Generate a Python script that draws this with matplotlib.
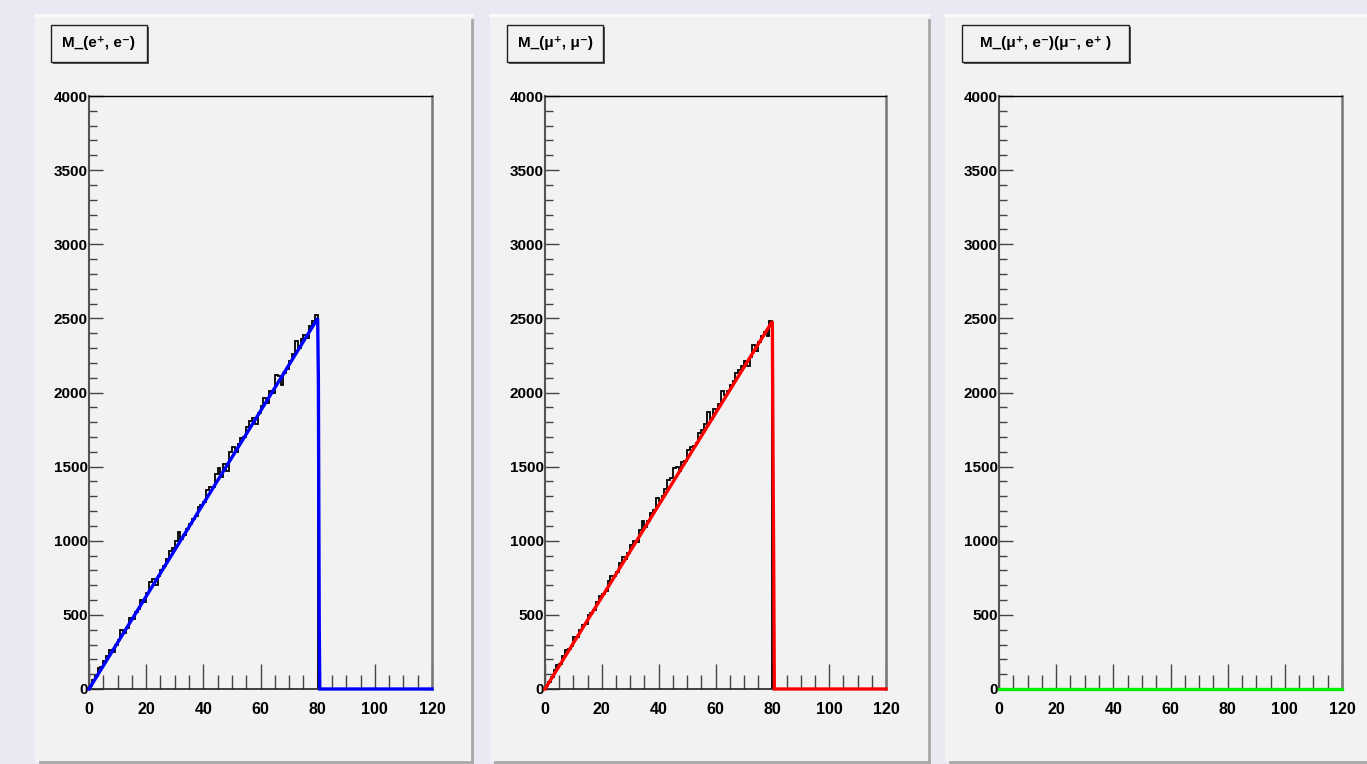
import numpy as np
import matplotlib
matplotlib.use("Agg")
import matplotlib.pyplot as plt
from matplotlib.patches import Rectangle
from matplotlib.lines import Line2D

plt.rcParams['font.family'] = ['Liberation Sans', 'DejaVu Sans']

W, H = 1367, 764

# histogram contents, 1 unit bins from 0 to 120 (empty above 80)
bin_edges = list(range(0, 121))
hist_ee = [20, 60, 90, 140, 150, 190, 220, 260, 250, 300,
           330, 400, 380, 410, 480, 470, 520, 540, 600, 590,
           650, 720, 740, 700, 760, 800, 830, 880, 930, 950,
           1000, 1060, 1010, 1040, 1080, 1110, 1150, 1170, 1230, 1240,
           1260, 1340, 1360, 1360, 1450, 1490, 1430, 1520, 1470, 1600,
           1630, 1600, 1650, 1690, 1700, 1770, 1810, 1830, 1790, 1860,
           1910, 1960, 1930, 2010, 2000, 2120, 2110, 2050, 2130, 2160,
           2210, 2260, 2350, 2300, 2360, 2390, 2370, 2450, 2480, 2520] + [0] * 40
hist_mumu = [20, 50, 80, 130, 160, 170, 220, 260, 270, 290,
             350, 350, 400, 430, 440, 500, 510, 530, 590, 630,
             640, 660, 730, 760, 760, 790, 850, 890, 880, 920,
             970, 1000, 990, 1070, 1130, 1090, 1130, 1190, 1210, 1290,
             1270, 1300, 1350, 1410, 1420, 1490, 1500, 1470, 1530, 1540,
             1610, 1630, 1640, 1660, 1730, 1750, 1790, 1870, 1820, 1890,
             1880, 1920, 2010, 1980, 2010, 2050, 2080, 2130, 2150, 2180,
             2210, 2180, 2240, 2320, 2280, 2340, 2380, 2410, 2380, 2480] + [0] * 40
hist_mue = [0] * 120

# fitted curves (sampled)
fit_ee_x = [0, 80, 80.25, 80.4, 80.55, 80.75, 120]
fit_ee_y = [0, 2500, 2080, 1240, 420, 0, 0]
fit_mumu_x = [0, 80, 80.25, 80.45, 80.7, 120]
fit_mumu_y = [0, 2480, 1550, 950, 0, 0]
fit_mue_x = [0, 120]
fit_mue_y = [0, 0]

titles = ['M_(e\u207a, e\u207b)', 'M_(\u03bc\u207a, \u03bc\u207b)',
          'M_(\u03bc\u207a, e\u207b)(\u03bc\u207b, e\u207a )']
hists = [hist_ee, hist_mumu, hist_mue]
fits = [(fit_ee_x, fit_ee_y), (fit_mumu_x, fit_mumu_y), (fit_mue_x, fit_mue_y)]
colors = ['#0000ff', '#ff0000', '#00ee00']

# pixel layout
pads = [(35, 472), (490, 929), (945, 1380)]
pad_top, pad_bot = 15, 762
axes_x = [(89, 432), (545, 886), (999, 1342)]
ax_top, ax_bot = 96, 689
title_boxes = [(51, 147), (507, 603), (962, 1129)]
tb_top, tb_bot = 25, 62


def fx(x):
    return x / W


def fy(y):
    return 1 - y / H


fig = plt.figure(figsize=(W / 100, H / 100), dpi=100)
fig.patch.set_facecolor('#e9e9f3')

for i in range(3):
    x0, x1 = pads[i]
    fig.patches.append(Rectangle((fx(x0), fy(pad_bot)), fx(x1 - x0), (pad_bot - pad_top) / H,
                                 transform=fig.transFigure, facecolor='#f2f2f2',
                                 edgecolor='none', zorder=-2))
    # bevel
    fig.add_artist(Line2D([fx(x1), fx(x1)], [fy(pad_bot), fy(pad_top + 5)],
                          color='#a8a8a8', lw=2, transform=fig.transFigure, zorder=-1))
    fig.add_artist(Line2D([fx(x0 + 5), fx(x1)], [fy(pad_bot), fy(pad_bot)],
                          color='#a8a8a8', lw=2, transform=fig.transFigure, zorder=-1))
    fig.add_artist(Line2D([fx(x0), fx(x1)], [fy(pad_top), fy(pad_top)],
                          color='#fafafa', lw=2, transform=fig.transFigure, zorder=-1))

    # title box with shadow
    b0, b1 = title_boxes[i]
    fig.patches.append(Rectangle((fx(b0 + 2), fy(tb_bot + 2)), fx(b1 - b0), (tb_bot - tb_top) / H,
                                 transform=fig.transFigure, facecolor='#555555',
                                 edgecolor='none', zorder=1))
    fig.patches.append(Rectangle((fx(b0), fy(tb_bot)), fx(b1 - b0), (tb_bot - tb_top) / H,
                                 transform=fig.transFigure, facecolor='#f2f2f2',
                                 edgecolor='#222222', lw=1, zorder=2))
    fig.text(fx((b0 + b1) / 2), fy((tb_top + tb_bot) / 2), titles[i], ha='center', va='center',
             fontsize=11, fontweight='bold', zorder=3)

    a0, a1 = axes_x[i]
    ax = fig.add_axes([fx(a0), fy(ax_bot), fx(a1 - a0), (ax_bot - ax_top) / H])
    ax.set_zorder(5)
    ax.set_facecolor('#f2f2f2')
    ax.stairs(hists[i], bin_edges, color='black', lw=1.3, zorder=2)
    ax.plot(fits[i][0], fits[i][1], color=colors[i], lw=2.4, zorder=3, solid_joinstyle='miter',
            clip_on=False)
    ax.set_xlim(0, 120)
    ax.set_ylim(0, 4000)
    ax.set_xticks(range(0, 121, 20))
    ax.set_xticks(range(0, 121, 5), minor=True)
    ax.set_yticks(range(0, 4001, 500))
    ax.set_yticks(range(0, 4001, 100), minor=True)
    ax.tick_params(axis='x', which='major', direction='in', length=18, width=1, color='#444444',
                   pad=9, labelsize=11.5)
    ax.tick_params(axis='x', which='minor', direction='in', length=10, width=1, color='#444444')
    ax.tick_params(axis='y', which='major', direction='in', length=10, width=1, color='#444444',
                   pad=1, labelsize=11)
    ax.tick_params(axis='y', which='minor', direction='in', length=6, width=1, color='#444444')
    for lab in ax.get_xticklabels() + ax.get_yticklabels():
        lab.set_fontweight('bold')
    ax.spines['top'].set_color('black')
    ax.spines['top'].set_linewidth(1)
    ax.spines['right'].set_color('#777777')
    ax.spines['right'].set_linewidth(1.8)
    ax.spines['left'].set_color('#555555')
    ax.spines['left'].set_linewidth(1.5)
    ax.spines['bottom'].set_color('#222222')
    ax.spines['bottom'].set_linewidth(1.2)

fig.savefig('out.png', dpi=100, facecolor=fig.get_facecolor())
